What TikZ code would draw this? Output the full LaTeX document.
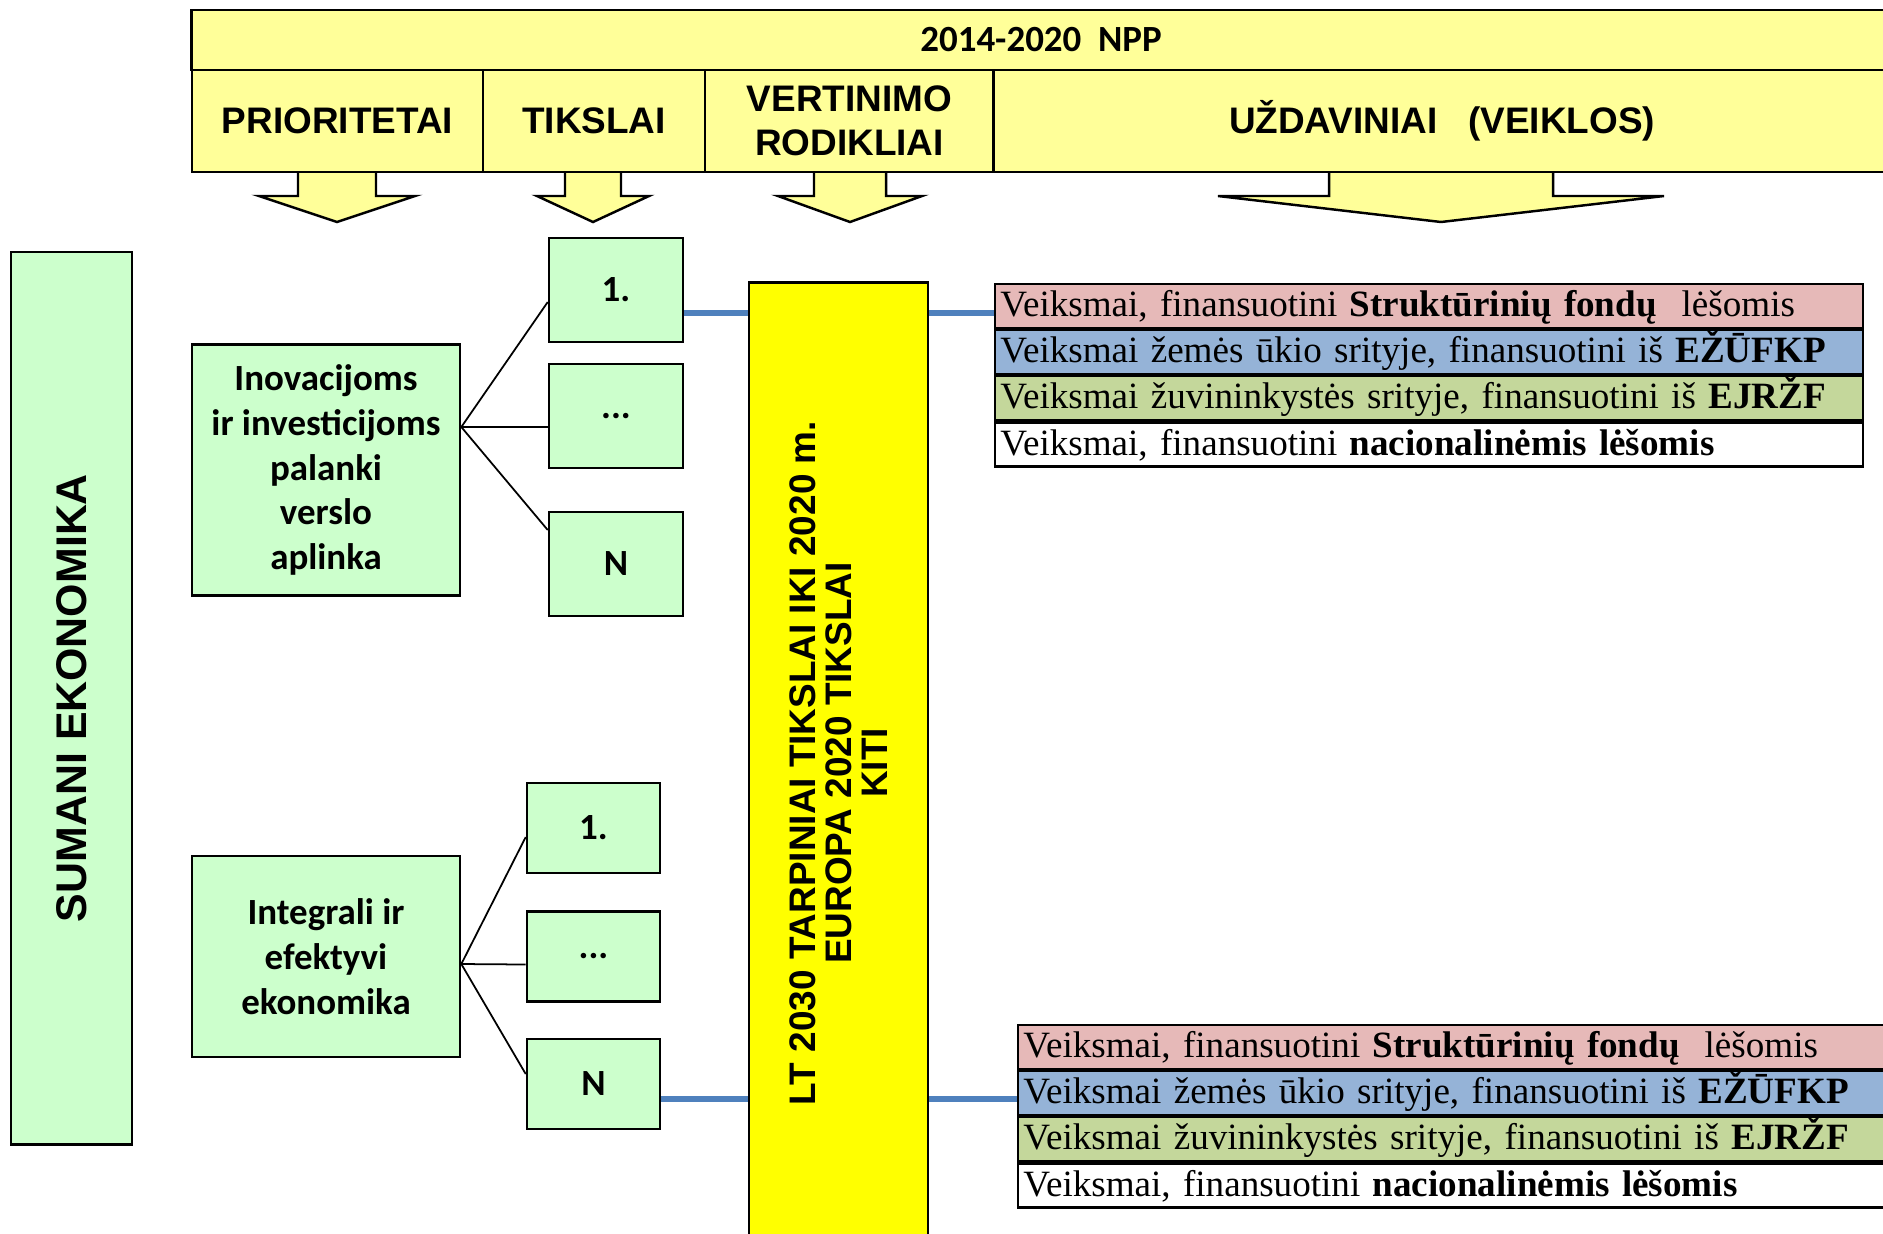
\documentclass[tikz,border=0pt]{standalone}
\usepackage{fontspec}
\setmainfont{Liberation Serif}
\newfontfamily\arialf{Liberation Sans}
\newfontfamily\calibrif{Carlito}
\usepackage{tikz}
\usetikzlibrary{calc}
\definecolor{hdryellow}{HTML}{FFFF99}
\definecolor{lightgreen}{HTML}{CCFFCC}
\definecolor{linkblue}{HTML}{4F81BD}
\definecolor{sfpink}{HTML}{E6B9B8}
\definecolor{zublue}{HTML}{95B3D7}
\definecolor{zvgreen}{HTML}{C4D79B}
\definecolor{ltyellow}{HTML}{FFFF00}
\tikzset{
	hdrbox/.style={draw=black, fill=hdryellow, line width=0.8pt, inner sep=0pt, align=center,
		font=\arialf\bfseries\fontsize{10.5}{12.6}\selectfont},
	greenbox/.style={draw=black, fill=lightgreen, line width=0.7pt, inner sep=0pt, align=center,
		font=\calibrif\bfseries\fontsize{10.5}{12.7}\selectfont},
	ltbox/.style={draw=black, fill=ltyellow, line width=0.8pt, inner sep=0pt},
	veikla/.style={draw=black, line width=0.6pt, anchor=north west, inner xsep=1.5pt, inner ysep=0pt,
		minimum height=0.44cm, text height=9pt, text depth=3pt, align=left,
		font=\fontsize{10.55}{12}\selectfont},
	link/.style={draw=black, line width=0.5pt},
	bluelink/.style={draw=linkblue, line width=1.6pt},
	arrowbox/.style={draw=black, fill=hdryellow, line width=0.7pt},
}
\begin{document}
\begin{tikzpicture}[x=0.01cm, y=-0.01cm]
	\useasboundingbox (0,0) rectangle (1883,1233);
	% arrows under the header
	\foreach \c/\s/\h in {337/39/78, 593/28/56, 850/36/72, 1441/112/223}
		\filldraw[arrowbox] (\c-\s,172) -- (\c-\s,196) -- (\c-\h,196) -- (\c,222) -- (\c+\h,196) -- (\c+\s,196) -- (\c+\s,172);
	\node[hdrbox, minimum width=16.98cm, minimum height=0.6cm, font=\calibrif\bfseries\fontsize{10.5}{12}\selectfont] (npp) at (1041,40) {2014-2020\ \ NPP};
	\node[hdrbox, minimum width=2.91cm, minimum height=1.02cm] (prio) at (337.5,121) {PRIORITETAI};
	\node[hdrbox, minimum width=2.22cm, minimum height=1.02cm] (tiksl) at (594,121) {TIKSLAI};
	\node[hdrbox, minimum width=2.89cm, minimum height=1.02cm] (vert) at (849.5,121) {VERTINIMO\\RODIKLIAI};
	\node[hdrbox, minimum width=8.96cm, minimum height=1.02cm] (uzd) at (1442,121) {UŽDAVINIAI\ \ \ (VEIKLOS)};

	\node[greenbox, rotate=90, minimum width=8.92cm, minimum height=1.21cm,
		font=\arialf\bfseries\fontsize{12.2}{14}\selectfont] (sumani) at (71.5,698) {SUMANI EKONOMIKA};
	\node[greenbox, minimum width=2.68cm, minimum height=2.51cm] (p1) at (326,470) {Inovacijoms\\ir investicijoms\\palanki\\verslo\\aplinka};
	\node[greenbox, minimum width=2.68cm, minimum height=2.01cm] (p2) at (326,956.5) {Integrali ir\\efektyvi\\ekonomika};

	\node[greenbox, minimum width=1.34cm, minimum height=1.04cm] (t11) at (616,290) {1.};
	\node[greenbox, minimum width=1.34cm, minimum height=1.04cm] (t12) at (616,416) {...};
	\node[greenbox, minimum width=1.34cm, minimum height=1.04cm] (t13) at (616,564) {N};
	\node[greenbox, minimum width=1.33cm, minimum height=0.9cm] (t21) at (593.5,828) {1.};
	\node[greenbox, minimum width=1.33cm, minimum height=0.9cm] (t22) at (593.5,956.5) {...};
	\node[greenbox, minimum width=1.33cm, minimum height=0.9cm] (t23) at (593.5,1084) {N};

	\node[ltbox, rotate=90, minimum width=9.6cm, minimum height=1.79cm, align=center,
		font=\arialf\bfseries\fontsize{10.5}{10.2}\selectfont] (lt) at (838.5,763)
		{LT 2030 TARPINIAI TIKSLAI IKI 2020 m.\\EUROPA 2020 TIKSLAI\\KITI};

	% veiklos pagal finansavimo saltini
	\foreach \t/\x/\y/\w in {1/994/283/243.9pt, 2/1017/1024/244.7pt} {
		\node[veikla, text width=\w, fill=sfpink] (v\t1) at (\x,\y) {Veiksmai, finansuotini \textbf{Struktūrinių fondų}\ \ lėšomis};
		\node[veikla, text width=\w, fill=zublue] (v\t2) at (v\t1.south west) {Veiksmai žemės ūkio srityje, finansuotini iš \textbf{EŽŪFKP}};
		\node[veikla, text width=\w, fill=zvgreen] (v\t3) at (v\t2.south west) {Veiksmai žuvininkystės srityje, finansuotini iš \textbf{EJRŽF}};
		\node[veikla, text width=\w, fill=white] (v\t4) at (v\t3.south west) {Veiksmai, finansuotini \textbf{nacionalinėmis lėšomis}};
	}

	\coordinate (f1) at ($(p1.east)+(0,-43)$);
	\draw[link] (f1) -- ($(t11.west)+(0,12)$);
	\draw[link] (f1) -- ($(t12.west)+(0,11)$);
	\draw[link] (f1) -- ($(t13.west)+(0,-34)$);
	\coordinate (f2) at ($(p2.east)+(0,7.5)$);
	\draw[link] (f2) -- ($(t21.west)+(0,9)$);
	\draw[link] (f2) -- ($(t22.west)+(0,8)$);
	\draw[link] (f2) -- ($(t23.west)+(0,-10)$);

	\coordinate (b1) at ($(t11.east)+(0,23)$);
	\draw[bluelink] (b1) -- (b1 -| lt.north);
	\draw[bluelink] (b1 -| lt.south) -- (b1 -| v11.west);
	\coordinate (b2) at ($(t23.east)+(0,15)$);
	\draw[bluelink] (b2) -- (b2 -| lt.north);
	\draw[bluelink] (b2 -| lt.south) -- (b2 -| v21.west);
\end{tikzpicture}
\end{document}
